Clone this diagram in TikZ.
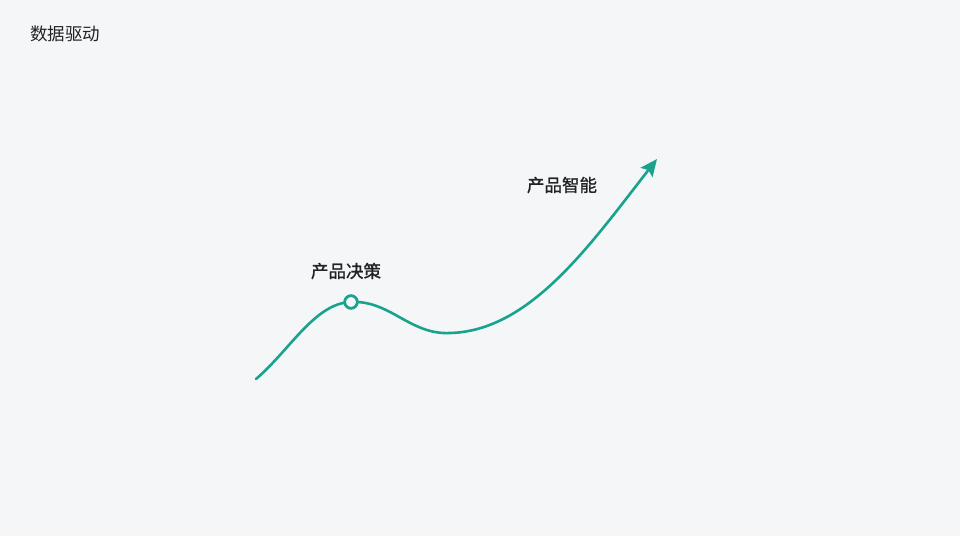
\documentclass[tikz,border=0pt]{standalone}
\usepackage{fontspec}
\newfontfamily\cjk{Noto Sans CJK SC}
\newfontfamily\cjkb[FakeBold=1.2]{Noto Sans CJK SC}
\usetikzlibrary{arrows.meta}
\definecolor{bgc}{RGB}{244,246,248}
\definecolor{teal1}{RGB}{26,163,140}
\definecolor{txt}{RGB}{34,34,34}
\tikzset{
  ttl/.style={font=\cjk\fontsize{17.5}{17.5}\selectfont, text=txt, inner sep=0pt},
  lbl/.style={font=\cjkb\fontsize{17.5}{17.5}\selectfont, text=txt, inner sep=0pt},
  curve/.style={draw=teal1, line width=2.6pt, line cap=round},
  dot/.style={circle, draw=teal1, fill=bgc, line width=2.6pt, minimum size=12.5pt, inner sep=0pt}
}
\begin{document}
\begin{tikzpicture}[x=1pt,y=-1pt]
\fill[bgc] (0,0) rectangle (960,536);
\useasboundingbox (0,0) rectangle (960,536);
\node[ttl, anchor=west] (title) at (30,34) {数据驱动};
\coordinate (start) at (256,379);
\coordinate (valley) at (450,333);
\coordinate (tip) at (657,159);
\node[dot] (peak) at (351,302) {};
\draw[curve, -{Stealth[length=17pt,width=15pt,inset=3pt]}] (start) .. controls (290,350) and (315,303) .. (peak.center) .. controls (390,300) and (410,335) .. (valley) .. controls (530,331) and (590,245) .. (tip);
\node[dot] at (peak) {};
\node[lbl] (l1) at (346,271) {产品决策};
\node[lbl] (l2) at (562,185) {产品智能};
\end{tikzpicture}
\end{document}
